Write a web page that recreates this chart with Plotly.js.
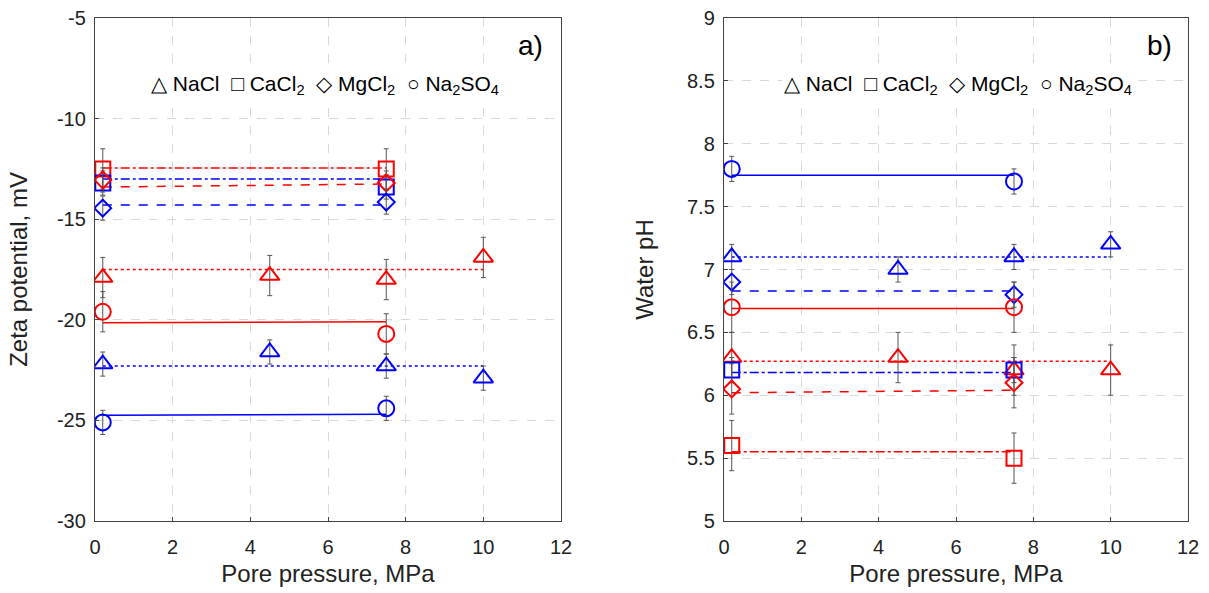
<!DOCTYPE html>
<html><head><meta charset="utf-8">
<script src="https://cdn.plot.ly/plotly-3.0.1.min.js"></script>
<style>html,body{margin:0;padding:0;background:#fff}#plot{width:1209px;height:593px}</style>
</head><body><div id="plot"></div>
<script>
// ---- data (a) zeta potential ----
const xNaCl = [0.2, 4.5, 7.5, 10];
const xPair = [0.2, 7.5];
const zetaNaClRed = [-17.9, -17.8, -18.0, -16.9];
const zetaNaClBlue = [-22.2, -21.6, -22.3, -22.9];
const zetaCaCl2Red = [-12.5, -12.5];
const zetaCaCl2Blue = [-13.2, -13.4];
const zetaMgCl2Red = [-13.05, -13.2];
const zetaMgCl2Blue = [-14.45, -14.15];
const zetaNa2SO4Red = [-19.6, -20.7];
const zetaNa2SO4Blue = [-25.1, -24.4];
const errZetaNaClRed = [1, 1, 1, 1];
const errZetaNaClBlue = [0.6, 0.6, 0.6, 0.6];
const errZetaCaCl2Red = [1, 1];
const errZetaCaCl2Blue = [0.6, 0.6];
const errZetaMgCl2Red = [0.6, 0.6];
const errZetaMgCl2Blue = [0.6, 0.6];
const errZetaNa2SO4Red = [1, 1];
const errZetaNa2SO4Blue = [0.6, 0.6];
// fitted lines (start, end)
const xFitNaCl = [0.2, 10];
const xFitPair = [0.2, 7.5];
const fitZetaNaClRed = [-17.5, -17.5];
const fitZetaNaClBlue = [-22.3, -22.3];
const fitZetaCaCl2Red = [-12.45, -12.45];
const fitZetaCaCl2Blue = [-13.0, -13.0];
const fitZetaMgCl2Red = [-13.4, -13.25];
const fitZetaMgCl2Blue = [-14.3, -14.3];
const fitZetaNa2SO4Red = [-20.15, -20.1];
const fitZetaNa2SO4Blue = [-24.75, -24.7];

// ---- data (b) water pH ----
const phNaClRed = [6.3, 6.3, 6.2, 6.2];
const phNaClBlue = [7.1, 7.0, 7.1, 7.2];
const phCaCl2Red = [5.6, 5.5];
const phCaCl2Blue = [6.2, 6.2];
const phMgCl2Red = [6.05, 6.1];
const phMgCl2Blue = [6.9, 6.8];
const phNa2SO4Red = [6.7, 6.7];
const phNa2SO4Blue = [7.8, 7.7];
const errPhNaClRed = [0.2, 0.2, 0.2, 0.2];
const errPhNaClBlue = [0.1, 0.1, 0.1, 0.1];
const errPhCaCl2Red = [0.2, 0.2];
const errPhCaCl2Blue = [0.1, 0.1];
const errPhMgCl2Red = [0.2, 0.2];
const errPhMgCl2Blue = [0.1, 0.1];
const errPhNa2SO4Red = [0.2, 0.2];
const errPhNa2SO4Blue = [0.1, 0.1];
const fitPhNaClRed = [6.27, 6.27];
const fitPhNaClBlue = [7.1, 7.1];
const fitPhCaCl2Red = [5.55, 5.55];
const fitPhCaCl2Blue = [6.18, 6.18];
const fitPhMgCl2Red = [6.02, 6.04];
const fitPhMgCl2Blue = [6.83, 6.83];
const fitPhNa2SO4Red = [6.69, 6.69];
const fitPhNa2SO4Blue = [7.75, 7.75];

const xTicks = [0, 2, 4, 6, 8, 10, 12];
const zetaTicks = [-5, -10, -15, -20, -25, -30];
const zetaTickText = ['-5', '-10', '-15', '-20', '-25', '-30'];
const phTicks = [9, 8.5, 8, 7.5, 7, 6.5, 6, 5.5, 5];
const phTickText = ['9', '8.5', '8', '7.5', '7', '6.5', '6', '5.5', '5'];

const RED = '#ff0000', BLUE = '#0000ff';
const traces = [];
function fit(x, y, color, dash, ax) {
  traces.push({x: x, y: y, mode: 'lines', line: {color: color, width: 1.5, dash: dash},
    xaxis: ax[0], yaxis: ax[1], showlegend: false, hoverinfo: 'skip'});
}
function pts(x, y, err, color, symbol, size, ax) {
  traces.push({x: x, y: y, mode: 'markers', type: 'scatter',
    marker: {symbol: symbol, size: size, color: color, line: {color: color, width: 2}},
    error_y: {type: 'data', array: err, visible: true, color: '#555', thickness: 1, width: 2.5},
    xaxis: ax[0], yaxis: ax[1], showlegend: false});
}
const A = ['x', 'y'], B = ['x2', 'y2'];
// (a)
fit(xFitNaCl, fitZetaNaClRed, RED, 'dot', A);
fit(xFitNaCl, fitZetaNaClBlue, BLUE, 'dot', A);
fit(xFitPair, fitZetaCaCl2Red, RED, 'dashdot', A);
fit(xFitPair, fitZetaCaCl2Blue, BLUE, 'dashdot', A);
fit(xFitPair, fitZetaMgCl2Red, RED, 'dash', A);
fit(xFitPair, fitZetaMgCl2Blue, BLUE, 'dash', A);
fit(xFitPair, fitZetaNa2SO4Red, RED, 'solid', A);
fit(xFitPair, fitZetaNa2SO4Blue, BLUE, 'solid', A);
pts(xNaCl, zetaNaClRed, errZetaNaClRed, RED, 'triangle-up-open', 17, A);
pts(xNaCl, zetaNaClBlue, errZetaNaClBlue, BLUE, 'triangle-up-open', 17, A);
pts(xPair, zetaCaCl2Red, errZetaCaCl2Red, RED, 'square-open', 15, A);
pts(xPair, zetaCaCl2Blue, errZetaCaCl2Blue, BLUE, 'square-open', 15, A);
pts(xPair, zetaMgCl2Red, errZetaMgCl2Red, RED, 'diamond-open', 13, A);
pts(xPair, zetaMgCl2Blue, errZetaMgCl2Blue, BLUE, 'diamond-open', 13, A);
pts(xPair, zetaNa2SO4Red, errZetaNa2SO4Red, RED, 'circle-open', 16, A);
pts(xPair, zetaNa2SO4Blue, errZetaNa2SO4Blue, BLUE, 'circle-open', 16, A);
// (b)
fit(xFitNaCl, fitPhNaClRed, RED, 'dot', B);
fit(xFitNaCl, fitPhNaClBlue, BLUE, 'dot', B);
fit(xFitPair, fitPhCaCl2Red, RED, 'dashdot', B);
fit(xFitPair, fitPhCaCl2Blue, BLUE, 'dashdot', B);
fit(xFitPair, fitPhMgCl2Red, RED, 'dash', B);
fit(xFitPair, fitPhMgCl2Blue, BLUE, 'dash', B);
fit(xFitPair, fitPhNa2SO4Red, RED, 'solid', B);
fit(xFitPair, fitPhNa2SO4Blue, BLUE, 'solid', B);
pts(xNaCl, phNaClRed, errPhNaClRed, RED, 'triangle-up-open', 17, B);
pts(xNaCl, phNaClBlue, errPhNaClBlue, BLUE, 'triangle-up-open', 17, B);
pts(xPair, phCaCl2Red, errPhCaCl2Red, RED, 'square-open', 15, B);
pts(xPair, phCaCl2Blue, errPhCaCl2Blue, BLUE, 'square-open', 15, B);
pts(xPair, phMgCl2Red, errPhMgCl2Red, RED, 'diamond-open', 13, B);
pts(xPair, phMgCl2Blue, errPhMgCl2Blue, BLUE, 'diamond-open', 13, B);
pts(xPair, phNa2SO4Red, errPhNa2SO4Red, RED, 'circle-open', 16, B);
pts(xPair, phNa2SO4Blue, errPhNa2SO4Blue, BLUE, 'circle-open', 16, B);

const FONT = 'Liberation Sans, Arial, sans-serif';
function xAxis(domain, anchor) {
  return {domain: domain, anchor: anchor, range: [0, 12], tickvals: xTicks, ticktext: xTicks.map(String),
    showgrid: true, gridcolor: '#d9d9d9', griddash: 'dash', gridwidth: 1,
    showline: true, linecolor: '#444', linewidth: 1.2, mirror: true, zeroline: false,
    ticks: 'inside', ticklen: 4, tickcolor: '#444', ticklabelstandoff: 8,
    tickfont: {size: 20, color: '#222'},
    title: {text: 'Pore pressure, MPa', font: {size: 24, color: '#222'}, standoff: 8}};
}
function yAxis(domain, anchor, range, tv, tt, title, standoff) {
  return {domain: domain, anchor: anchor, range: range, tickvals: tv, ticktext: tt,
    showgrid: true, gridcolor: '#d9d9d9', griddash: 'dash', gridwidth: 1,
    showline: true, linecolor: '#444', linewidth: 1.2, mirror: true, zeroline: false,
    ticks: 'inside', ticklen: 4, tickcolor: '#444', ticklabelstandoff: 4,
    tickfont: {size: 20, color: '#222'},
    title: {text: title, font: {size: 24, color: '#222'}, standoff: standoff}};
}
const legendText = '\u25B3 NaCl  \u25A1 CaCl<sub>2</sub>  \u25C7 MgCl<sub>2</sub>  \u25CB Na<sub>2</sub>SO<sub>4</sub>';
const layout = {
  width: 1209, height: 593, margin: {l: 0, r: 0, t: 0, b: 0},
  paper_bgcolor: '#fff', plot_bgcolor: '#fff', font: {family: FONT, color: '#222'},
  showlegend: false,
  xaxis: xAxis([95/1209, 561/1209], 'y'),
  yaxis: yAxis([1-521/593, 1-18/593], 'x', [-30, -5], zetaTicks, zetaTickText, 'Zeta potential, mV', 22),
  xaxis2: xAxis([724/1209, 1188/1209], 'y2'),
  yaxis2: yAxis([1-521/593, 1-18/593], 'x2', [5, 9], phTicks, phTickText, 'Water pH', 26),
  annotations: [
    {text: 'a)', xref: 'paper', yref: 'paper', x: 545/1209, y: 1-45/593, xanchor: 'right', yanchor: 'middle', showarrow: false, font: {size: 28, color: '#000'}},
    {text: 'b)', xref: 'paper', yref: 'paper', x: 1174/1209, y: 1-45/593, xanchor: 'right', yanchor: 'middle', showarrow: false, font: {size: 28, color: '#000'}},
    {text: legendText, xref: 'paper', yref: 'paper', x: 325/1209, y: 1-85/593, xanchor: 'center', yanchor: 'middle', showarrow: false, bgcolor: '#fff', font: {size: 21, color: '#000'}},
    {text: legendText, xref: 'paper', yref: 'paper', x: 958/1209, y: 1-85/593, xanchor: 'center', yanchor: 'middle', showarrow: false, bgcolor: '#fff', font: {size: 21, color: '#000'}}
  ]
};
Plotly.newPlot('plot', traces, layout, {staticPlot: true});
</script></body></html>
